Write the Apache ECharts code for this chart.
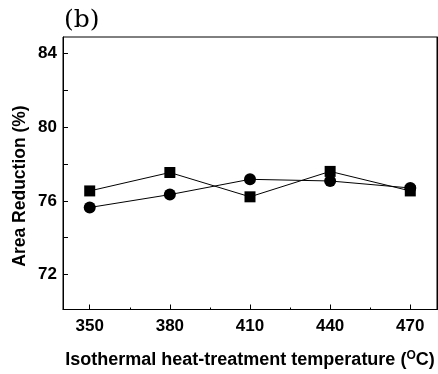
<!DOCTYPE html>
<html>
<head>
<meta charset="utf-8">
<script src="https://cdn.jsdelivr.net/npm/echarts@6/dist/echarts.min.js"></script>
<style>html,body{margin:0;padding:0;background:#fff}#c{width:438px;height:374px}</style>
</head>
<body>
<div id="c"></div>
<script>
const temperatures = [350, 380, 410, 440, 470];
const squareSeries = [76.54, 77.54, 76.22, 77.6, 76.54];
const circleSeries = [75.64, 76.34, 77.17, 77.08, 76.7];
const xMajorTicks = [350, 380, 410, 440, 470];
const xMinorTicks = [365, 395, 425, 455];
const yTickValues = [72, 74, 76, 78, 80, 82, 84];
const yLabelValues = [72, 76, 80, 84];

const chart = echarts.init(document.getElementById('c'), null, {renderer: 'canvas'});
const font = 'Liberation Sans, Arial, sans-serif';
const pair = arr => arr.map((v, i) => [temperatures[i], v]);

chart.setOption({
  animation: false,
  backgroundColor: '#fff',
  grid: {left: 63, top: 37, width: 374, height: 275, show: true, borderColor: '#000', borderWidth: 1, backgroundColor: 'transparent'},
  graphic: [
    {type: 'text', left: 64, top: 8, style: {text: '(b)', font: '25px "DejaVu Serif", serif', fill: '#000'}},
    {type: 'text', x: 20, y: 186, rotation: Math.PI / 2,
     style: {text: 'Area Reduction (%)', font: 'bold 17.5px ' + font, fill: '#000', align: 'center', verticalAlign: 'middle'}}
  ],
  xAxis: [
    {type: 'value', min: 340, max: 480, position: 'bottom',
     axisLine: {show: true, lineStyle: {color: '#000', width: 1}},
     axisTick: {show: true, inside: true, length: 5, customValues: xMajorTicks, lineStyle: {color: '#000'}},
     axisLabel: {show: true, customValues: xMajorTicks, margin: 8, color: '#000', fontSize: 17, fontWeight: 'bold', fontFamily: font},
     splitLine: {show: false},
     name: 'Isothermal heat-treatment temperature ({sup|O}C)',
     nameLocation: 'middle', nameGap: 40,
     nameTextStyle: {color: '#000', fontSize: 18, fontWeight: 'bold', fontFamily: font,
       rich: {sup: {fontSize: 12, fontWeight: 'bold', fontFamily: font, color: '#000', verticalAlign: 'top', padding: [0, 0, 9, 0]}}}
    },
    {type: 'value', min: 340, max: 480, position: 'bottom',
     axisLine: {show: false},
     axisTick: {show: true, inside: true, length: 2, customValues: xMinorTicks, lineStyle: {color: '#000'}},
     axisLabel: {show: false}, splitLine: {show: false}
    }
  ],
  yAxis: [
    {type: 'value', min: 70.1, max: 84.9, position: 'left',
     axisLine: {show: true, lineStyle: {color: '#000', width: 1}},
     axisTick: {show: true, inside: true, length: 5, customValues: yTickValues, lineStyle: {color: '#000'}},
     axisLabel: {show: true, customValues: yLabelValues, margin: 6, color: '#000', fontSize: 17, fontWeight: 'bold', fontFamily: font},
     splitLine: {show: false}
    },
    {type: 'value', min: 70.1, max: 84.9, position: 'right',
     axisLine: {show: true, lineStyle: {color: '#000', width: 1}},
     axisTick: {show: true, inside: false, length: 3, customValues: yTickValues, lineStyle: {color: '#000'}},
     axisLabel: {show: false}, splitLine: {show: false}
    }
  ],
  series: [
    {type: 'line', data: pair(squareSeries), symbol: 'rect', symbolSize: 11,
     lineStyle: {color: '#000', width: 1}, itemStyle: {color: '#000'}},
    {type: 'line', data: pair(circleSeries), symbol: 'circle', symbolSize: 12,
     lineStyle: {color: '#000', width: 1}, itemStyle: {color: '#000'}}
  ]
});
</script>
</body>
</html>
